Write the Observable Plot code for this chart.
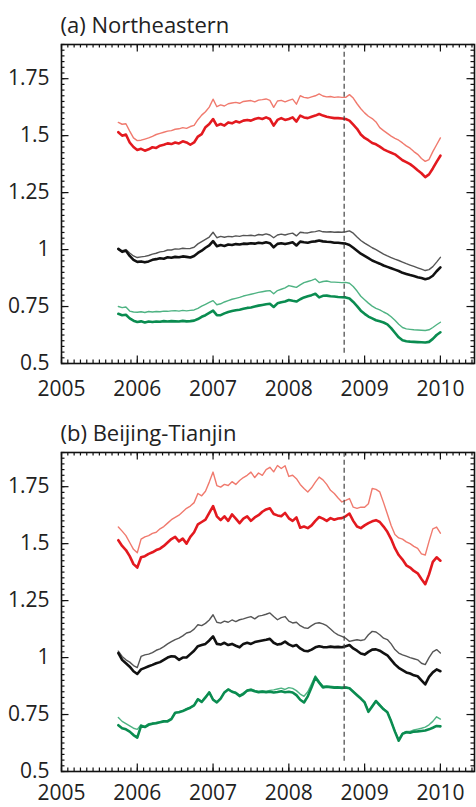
<!DOCTYPE html>
<html><head><meta charset="utf-8">
<script src="https://cdn.jsdelivr.net/npm/d3@7"></script>
<script src="https://cdn.jsdelivr.net/npm/@observablehq/plot@0.6"></script>
<style>
html,body{margin:0;padding:0;background:#fff;overflow:hidden;width:476px;height:807px}
#chart svg{display:block;overflow:visible}
</style></head><body><div id="chart"></div>
<script>
const years = [2005.75,2005.8,2005.85,2005.9,2005.95,2006,2006.05,2006.1,2006.15,2006.2,2006.25,2006.3,2006.35,2006.4,2006.45,2006.5,2006.55,2006.6,2006.65,2006.7,2006.75,2006.8,2006.85,2006.9,2006.95,2007,2007.05,2007.1,2007.15,2007.2,2007.25,2007.3,2007.35,2007.4,2007.45,2007.5,2007.55,2007.6,2007.65,2007.7,2007.75,2007.8,2007.85,2007.9,2007.95,2008,2008.05,2008.1,2008.15,2008.2,2008.25,2008.3,2008.35,2008.4,2008.45,2008.5,2008.55,2008.6,2008.65,2008.7,2008.75,2008.8,2008.85,2008.9,2008.95,2009,2009.05,2009.1,2009.15,2009.2,2009.25,2009.3,2009.35,2009.4,2009.45,2009.5,2009.55,2009.6,2009.65,2009.7,2009.75,2009.8,2009.85,2009.9,2009.95,2010];

// (a) Northeastern
const neRedThick = [1.515,1.50,1.505,1.47,1.45,1.437,1.442,1.434,1.44,1.449,
1.446,1.456,1.46,1.466,1.463,1.47,1.466,1.475,1.47,1.46,
1.47,1.496,1.507,1.537,1.551,1.573,1.544,1.551,1.544,1.558,
1.554,1.563,1.558,1.566,1.569,1.566,1.573,1.577,1.573,1.58,
1.573,1.544,1.569,1.577,1.569,1.573,1.58,1.562,1.588,1.58,
1.577,1.583,1.588,1.595,1.588,1.583,1.58,1.577,1.577,1.575,
1.573,1.566,1.548,1.53,1.505,1.49,1.48,1.468,1.462,1.452,
1.44,1.432,1.425,1.418,1.405,1.392,1.384,1.375,1.362,1.348,
1.335,1.318,1.33,1.356,1.385,1.412];
const neRedThin = [1.558,1.55,1.552,1.52,1.49,1.478,1.48,1.485,1.49,1.497,
1.505,1.51,1.515,1.52,1.522,1.528,1.53,1.535,1.532,1.54,
1.545,1.57,1.59,1.605,1.625,1.66,1.627,1.635,1.63,1.64,
1.643,1.646,1.642,1.65,1.652,1.654,1.648,1.656,1.658,1.661,
1.655,1.624,1.652,1.655,1.648,1.655,1.66,1.638,1.675,1.668,
1.665,1.67,1.675,1.683,1.674,1.67,1.672,1.668,1.67,1.668,
1.668,1.68,1.665,1.64,1.618,1.6,1.585,1.575,1.56,1.535,
1.522,1.51,1.498,1.488,1.48,1.468,1.455,1.445,1.43,1.418,
1.40,1.387,1.395,1.43,1.46,1.49];
const neBlackThick = [1.003,0.99,0.995,0.972,0.955,0.946,0.948,0.944,0.948,0.955,
0.958,0.962,0.96,0.966,0.964,0.968,0.966,0.97,0.968,0.965,
0.972,0.985,0.995,1.008,1.018,1.037,1.015,1.02,1.016,1.022,
1.02,1.024,1.022,1.026,1.025,1.028,1.026,1.03,1.028,1.032,
1.028,1.01,1.025,1.028,1.024,1.028,1.032,1.018,1.035,1.032,
1.03,1.034,1.036,1.04,1.036,1.034,1.033,1.03,1.03,1.028,
1.026,1.02,1.008,0.995,0.982,0.972,0.962,0.952,0.945,0.938,
0.93,0.924,0.918,0.912,0.906,0.898,0.893,0.888,0.884,0.879,
0.875,0.87,0.874,0.885,0.905,0.922];
const neBlackThin = [1.0,0.995,1.0,0.985,0.972,0.965,0.968,0.97,0.974,0.98,
0.984,0.99,0.992,0.998,0.998,1.003,1.002,1.006,1.004,1.005,
1.01,1.025,1.035,1.045,1.055,1.076,1.052,1.058,1.054,1.058,
1.056,1.06,1.058,1.062,1.061,1.063,1.06,1.066,1.064,1.069,
1.064,1.052,1.064,1.068,1.064,1.069,1.072,1.06,1.076,1.074,
1.073,1.077,1.079,1.083,1.078,1.077,1.078,1.076,1.077,1.076,
1.078,1.082,1.072,1.055,1.04,1.028,1.018,1.008,1.0,0.99,
0.98,0.972,0.965,0.958,0.952,0.945,0.938,0.932,0.926,0.92,
0.914,0.908,0.912,0.925,0.945,0.966];
const neGreenThick = [0.718,0.712,0.714,0.698,0.688,0.682,0.685,0.68,0.684,0.682,
0.684,0.683,0.686,0.684,0.686,0.685,0.684,0.687,0.685,0.686,
0.688,0.695,0.705,0.712,0.722,0.732,0.712,0.712,0.72,0.726,
0.73,0.734,0.736,0.74,0.744,0.746,0.75,0.754,0.757,0.76,
0.762,0.748,0.764,0.769,0.772,0.779,0.775,0.772,0.782,0.79,
0.795,0.8,0.806,0.79,0.797,0.798,0.795,0.794,0.792,0.791,
0.79,0.785,0.77,0.752,0.732,0.718,0.706,0.698,0.69,0.685,
0.68,0.672,0.655,0.635,0.615,0.602,0.598,0.596,0.595,0.594,
0.593,0.592,0.595,0.608,0.625,0.637];
const neGreenThin = [0.75,0.745,0.748,0.73,0.726,0.725,0.727,0.724,0.728,0.726,
0.728,0.727,0.73,0.729,0.731,0.732,0.73,0.733,0.731,0.733,
0.735,0.742,0.752,0.76,0.768,0.776,0.758,0.762,0.77,0.776,
0.782,0.786,0.79,0.796,0.8,0.804,0.808,0.812,0.815,0.818,
0.82,0.806,0.82,0.826,0.832,0.842,0.838,0.834,0.845,0.855,
0.86,0.865,0.871,0.855,0.86,0.862,0.858,0.857,0.856,0.855,
0.856,0.852,0.838,0.818,0.795,0.78,0.765,0.752,0.742,0.735,
0.726,0.718,0.705,0.69,0.672,0.658,0.652,0.65,0.648,0.647,
0.646,0.645,0.648,0.658,0.67,0.681];

// (b) Beijing-Tianjin
const bjRedThick = [1.515,1.49,1.472,1.445,1.41,1.395,1.44,1.445,1.455,1.462,
1.472,1.478,1.49,1.505,1.52,1.53,1.51,1.522,1.50,1.53,
1.55,1.585,1.595,1.605,1.635,1.665,1.62,1.603,1.62,1.6,
1.628,1.61,1.59,1.61,1.62,1.6,1.615,1.625,1.64,1.65,
1.655,1.63,1.624,1.62,1.635,1.611,1.6,1.615,1.57,1.575,
1.568,1.58,1.6,1.617,1.61,1.6,1.612,1.605,1.61,1.612,
1.62,1.632,1.6,1.575,1.568,1.58,1.59,1.598,1.603,1.595,
1.575,1.552,1.52,1.48,1.45,1.43,1.405,1.395,1.38,1.37,
1.345,1.322,1.365,1.42,1.44,1.425];
const bjRedThin = [1.573,1.555,1.535,1.505,1.475,1.46,1.52,1.53,1.535,1.545,
1.55,1.565,1.575,1.59,1.605,1.615,1.625,1.64,1.655,1.665,
1.68,1.72,1.71,1.73,1.77,1.814,1.755,1.748,1.76,1.755,
1.772,1.76,1.777,1.79,1.8,1.814,1.79,1.81,1.80,1.825,
1.835,1.815,1.843,1.83,1.842,1.795,1.8,1.785,1.76,1.742,
1.727,1.745,1.77,1.792,1.78,1.76,1.734,1.72,1.70,1.683,
1.69,1.698,1.66,1.655,1.66,1.66,1.675,1.742,1.738,1.727,
1.68,1.63,1.58,1.54,1.525,1.52,1.508,1.50,1.488,1.479,
1.455,1.45,1.51,1.565,1.573,1.546];
const bjBlackThick = [1.02,0.99,0.975,0.96,0.94,0.928,0.948,0.955,0.962,0.968,
0.975,0.98,0.99,1.0,1.006,1.004,0.99,1.0,1.0,1.015,
1.03,1.05,1.055,1.06,1.075,1.093,1.06,1.057,1.065,1.055,
1.06,1.052,1.045,1.06,1.065,1.06,1.068,1.072,1.075,1.078,
1.082,1.065,1.057,1.06,1.07,1.058,1.05,1.055,1.04,1.03,
1.028,1.035,1.045,1.05,1.046,1.045,1.048,1.046,1.047,1.045,
1.05,1.055,1.04,1.03,1.018,1.013,1.025,1.035,1.036,1.03,
1.02,1.01,0.99,0.97,0.955,0.945,0.935,0.93,0.922,0.918,
0.90,0.882,0.915,0.935,0.948,0.94];
const bjBlackThin = [1.028,1.005,0.99,0.98,0.965,0.956,1.005,1.012,1.015,1.022,
1.032,1.038,1.048,1.06,1.07,1.079,1.085,1.095,1.108,1.112,
1.125,1.144,1.14,1.15,1.165,1.188,1.155,1.151,1.16,1.155,
1.165,1.158,1.166,1.17,1.175,1.18,1.17,1.182,1.185,1.19,
1.196,1.18,1.166,1.175,1.18,1.16,1.152,1.155,1.14,1.131,
1.128,1.14,1.15,1.153,1.148,1.14,1.125,1.11,1.10,1.093,
1.085,1.071,1.075,1.078,1.075,1.079,1.10,1.115,1.112,1.10,
1.085,1.079,1.06,1.035,1.02,1.012,1.006,1.0,0.995,0.99,
0.975,0.969,1.0,1.025,1.035,1.02];
const bjGreenThick = [0.703,0.69,0.685,0.675,0.66,0.649,0.70,0.695,0.705,0.71,
0.712,0.716,0.72,0.72,0.73,0.758,0.76,0.765,0.773,0.78,
0.79,0.817,0.805,0.825,0.847,0.815,0.803,0.82,0.847,0.86,
0.85,0.845,0.831,0.84,0.855,0.858,0.852,0.848,0.85,0.848,
0.85,0.847,0.849,0.852,0.848,0.85,0.847,0.835,0.815,0.803,
0.83,0.87,0.913,0.89,0.869,0.872,0.87,0.868,0.869,0.867,
0.869,0.865,0.85,0.835,0.82,0.803,0.762,0.785,0.809,0.79,
0.773,0.76,0.72,0.675,0.635,0.665,0.672,0.67,0.675,0.676,
0.678,0.68,0.685,0.692,0.70,0.698];
const bjGreenThin = [0.737,0.72,0.71,0.70,0.69,0.685,0.705,0.698,0.71,0.712,
0.715,0.718,0.722,0.724,0.733,0.758,0.762,0.766,0.775,0.782,
0.792,0.82,0.808,0.828,0.85,0.818,0.806,0.822,0.85,0.862,
0.852,0.848,0.835,0.845,0.858,0.862,0.856,0.852,0.855,0.852,
0.856,0.858,0.862,0.866,0.86,0.868,0.865,0.855,0.84,0.83,
0.85,0.885,0.92,0.895,0.875,0.876,0.874,0.872,0.872,0.87,
0.871,0.866,0.852,0.838,0.822,0.806,0.765,0.79,0.812,0.795,
0.776,0.762,0.722,0.678,0.64,0.668,0.676,0.676,0.682,0.686,
0.69,0.695,0.705,0.72,0.74,0.73];

const titles = ["(a) Northeastern", "(b) Beijing-Tianjin"];
const xTicks = [2005, 2006, 2007, 2008, 2009, 2010];
const xTickLabels = ["2005", "2006", "2007", "2008", "2009", "2010"];
const yTicks = [0.5, 0.75, 1, 1.25, 1.5, 1.75];
const yTickLabels = ["0.5", "0.75", "1", "1.25", "1.5", "1.75"];
const eventYear = 2008.73;

const xDomain = [2005, 2010.45];
const yDomain = [0.5, 1.9];
const xMinor = d3.range(0, 66).map(k => 2005 + k / 12);
const yMinor = d3.range(0, 57).map(k => 0.5 + k * 0.025);

const colors = {redThick:"#e3191f", redThin:"#f07a6e", blackThick:"#111111", blackThin:"#555555", greenThick:"#0a8c50", greenThin:"#4fb383"};

// plot geometry (pixels)
const W = 476, H = 408, mT = 44, mB = 45, mL = 61, mR = 2;
const pxX = (xDomain[1] - xDomain[0]) / (W - mL - mR);   // years per pixel
const pxY = (yDomain[1] - yDomain[0]) / (H - mT - mB);   // units per pixel

function lineMark(values, stroke, width) {
  return Plot.line(values, {x: (d, i) => years[i], y: d => d, stroke, strokeWidth: width, strokeLinejoin: "round", strokeLinecap: "round"});
}

// inward frame ticks drawn as short rules on the scales
function ticksX(values, len) {
  return [
    Plot.ruleX(values, {x: d => d, y1: yDomain[0], y2: yDomain[0] + len * pxY, stroke: "#111", strokeWidth: 1.2}),
    Plot.ruleX(values, {x: d => d, y1: yDomain[1], y2: yDomain[1] - len * pxY, stroke: "#111", strokeWidth: 1.2})
  ];
}
function ticksY(values, len) {
  return [
    Plot.ruleY(values, {y: d => d, x1: xDomain[0], x2: xDomain[0] + len * pxX, stroke: "#111", strokeWidth: 1.2}),
    Plot.ruleY(values, {y: d => d, x1: xDomain[1], x2: xDomain[1] - len * pxX, stroke: "#111", strokeWidth: 1.2})
  ];
}

function panel(title, s, padX) {
  return Plot.plot({
    width: W, height: H,
    marginTop: mT, marginBottom: mB, marginLeft: mL, marginRight: mR,
    x: {domain: xDomain, axis: null},
    y: {domain: yDomain, axis: null},
    style: {fontFamily: "'Open Sans', sans-serif", fontSize: "21px", color: "#222", background: "white", overflow: "visible"},
    marks: [
      lineMark(s[1], colors.redThin, 1.4),
      lineMark(s[0], colors.redThick, 2.6),
      lineMark(s[3], colors.blackThin, 1.4),
      lineMark(s[2], colors.blackThick, 2.6),
      lineMark(s[5], colors.greenThin, 1.4),
      lineMark(s[4], colors.greenThick, 2.6),
      Plot.ruleX([eventYear], {x: d => d, y1: 0.545, y2: 1.9, stroke: "#444", strokeWidth: 1.2, strokeDasharray: "5,3"}),
      ...ticksX(xMinor, 3.5),
      ...ticksX(xTicks, 7.5),
      ...ticksY(yMinor, 3.5),
      ...ticksY(yTicks, 7.5),
      Plot.text(xTicks, {x: d => d, frameAnchor: "bottom", dy: padX, lineAnchor: "top", textAnchor: "middle", text: d => xTickLabels[xTicks.indexOf(d)], fill: "#222", fontSize: 21}),
      Plot.text(yTicks, {y: d => d, frameAnchor: "left", dx: -12, textAnchor: "end", lineAnchor: "middle", text: d => yTickLabels[yTicks.indexOf(d)], fill: "#222", fontSize: 21}),
      Plot.frame({stroke: "#111", strokeWidth: 1.6}),
      Plot.text([title], {frameAnchor: "top-left", dx: -1, dy: -12, textAnchor: "start", lineAnchor: "bottom", fontSize: 22, fill: "#222"})
    ]
  });
}

const root = document.getElementById("chart");
root.appendChild(panel(titles[0], [neRedThick, neRedThin, neBlackThick, neBlackThin, neGreenThick, neGreenThin], 18));
root.appendChild(panel(titles[1], [bjRedThick, bjRedThin, bjBlackThick, bjBlackThin, bjGreenThick, bjGreenThin], 14));
</script></body></html>
